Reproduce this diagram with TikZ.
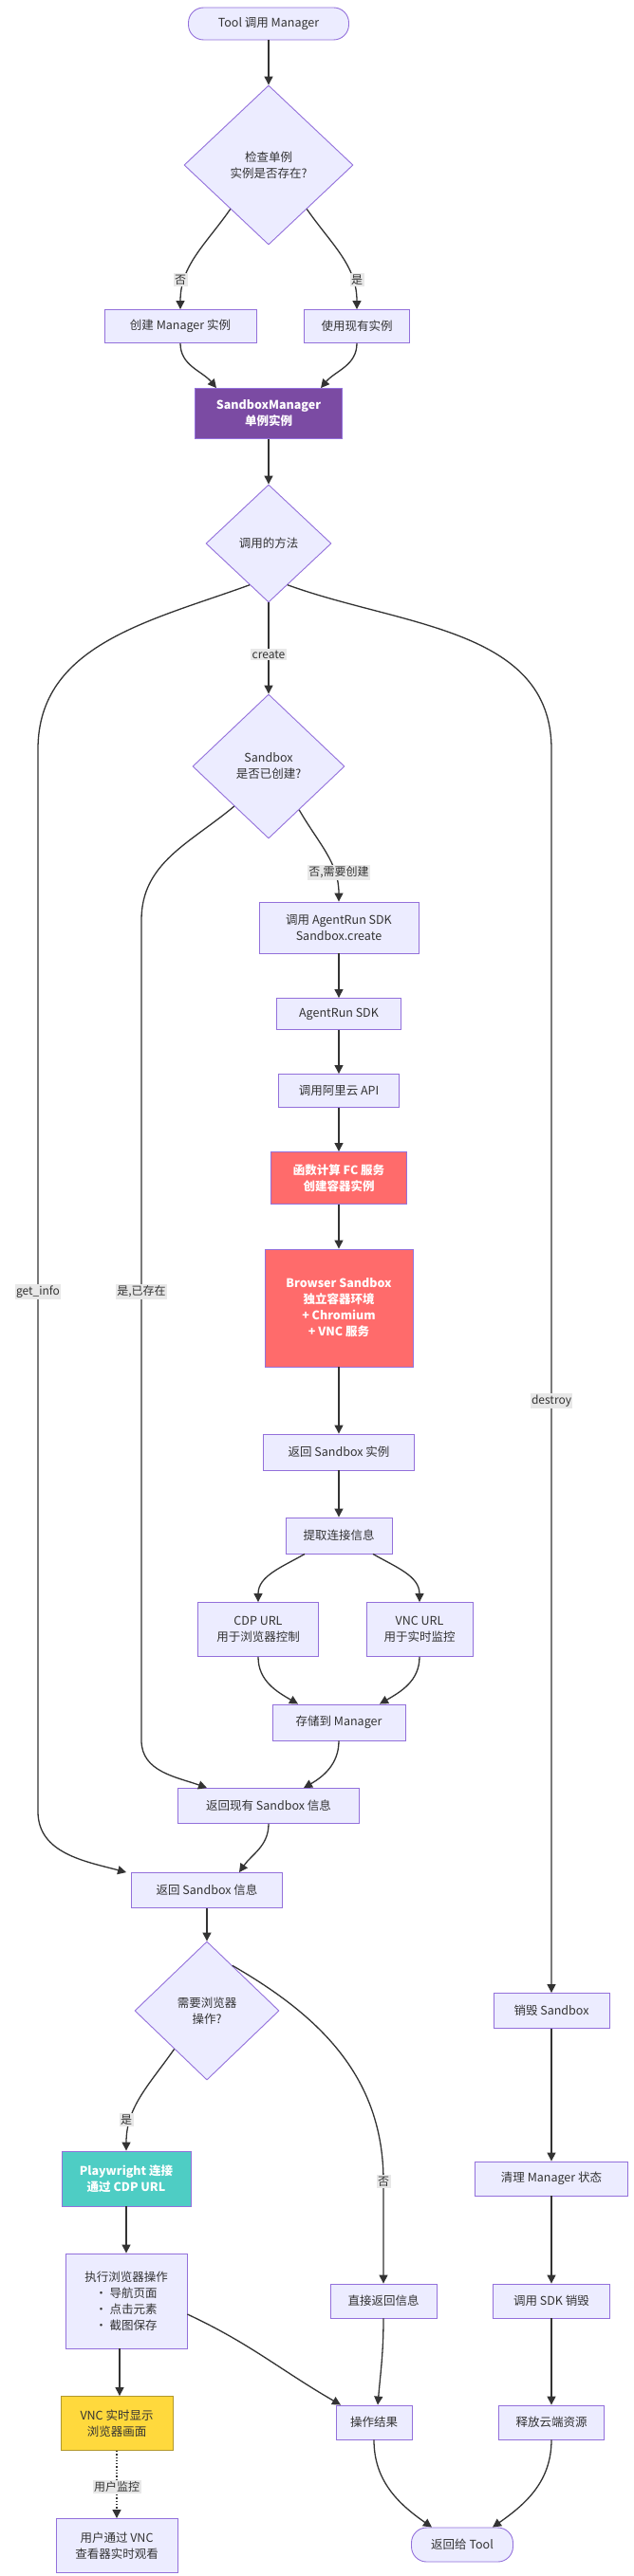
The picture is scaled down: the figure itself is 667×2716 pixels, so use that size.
\documentclass[tikz,border=0pt]{standalone}
\usepackage{fontspec}
\setmainfont{Noto Sans CJK SC}
\usetikzlibrary{shapes.geometric,arrows.meta,calc}
\definecolor{nfill}{HTML}{ECECFF}
\definecolor{nline}{HTML}{9370DB}
\definecolor{ink}{HTML}{333333}
\definecolor{smc}{HTML}{7B4BA3}
\definecolor{redc}{HTML}{FF6B6B}
\definecolor{tealc}{HTML}{4ECDC4}
\definecolor{yelc}{HTML}{FFD93D}
\definecolor{lblbg}{HTML}{E8E8E8}
\tikzset{
 box/.style={draw=nline, fill=nfill, text=ink, align=center, inner sep=1pt, line width=0.9pt, font=\fontsize{12.5}{17}\selectfont},
 dia/.style={box, diamond, inner sep=0pt},
 term/.style={box, rounded corners=16pt},
 arr/.style={draw=ink, line width=1.3pt, -{Triangle[length=9pt,width=9pt]}},
 lbl/.style={fill=lblbg, text=ink, inner sep=1.5pt, font=\fontsize{12}{14}\selectfont},
}
\begin{document}
\begin{tikzpicture}[x=1pt,y=-1pt]
\useasboundingbox[fill=white] (0,0) rectangle (667,2716);
% nodes
\node[term, minimum width=169, minimum height=34] (start) at (283,25) {Tool 调用 Manager};
\node[dia, minimum width=178, minimum height=168] (d1) at (283,174) {检查单例\\实例是否存在?};
\node[box, minimum width=160, minimum height=35] (create) at (190,344) {创建 Manager 实例};
\node[box, minimum width=111, minimum height=35] (use) at (376,344) {使用现有实例};
\node[box, fill=smc, text=white, font=\fontsize{12.5}{17}\selectfont\bfseries, minimum width=155, minimum height=53] (sm) at (283,436) {SandboxManager\\单例实例};
\node[dia, minimum width=132, minimum height=124] (d2) at (283,573) {调用的方法};
\node[dia, minimum width=160, minimum height=152] (d3) at (283,808) {Sandbox\\是否已创建?};
\node[box, minimum width=168, minimum height=54] (call) at (357,978) {调用 AgentRun SDK\\Sandbox.create};
\node[box, minimum width=131, minimum height=33] (sdk) at (357,1069) {AgentRun SDK};
\node[box, minimum width=127, minimum height=35] (api) at (357,1150) {调用阿里云 API};
\node[box, fill=redc, text=white, font=\fontsize{12.5}{17}\selectfont\bfseries, minimum width=143, minimum height=55] (fc) at (357,1242) {函数计算 FC 服务\\创建容器实例};
\node[box, fill=redc, text=white, font=\fontsize{12.5}{17}\selectfont\bfseries, minimum width=156, minimum height=124] (bs) at (357,1379) {Browser Sandbox\\独立容器环境\\+ Chromium\\+ VNC 服务};
\node[box, minimum width=159, minimum height=38] (rsb) at (357,1531) {返回 Sandbox 实例};
\node[box, minimum width=112, minimum height=38] (ext) at (357,1619) {提取连接信息};
\node[box, minimum width=127, minimum height=57] (cdp) at (272,1718) {CDP URL\\用于浏览器控制};
\node[box, minimum width=112, minimum height=57] (vnc) at (442,1718) {VNC URL\\用于实时监控};
\node[box, minimum width=140, minimum height=38] (store) at (357,1816) {存储到 Manager};
\node[box, minimum width=191, minimum height=37] (rex) at (283,1904) {返回现有 Sandbox 信息};
\node[box, minimum width=159, minimum height=37] (rsi) at (218,1993) {返回 Sandbox 信息};
\node[dia, minimum width=152, minimum height=146] (d4) at (218,2120) {需要浏览器\\操作?};
\node[box, minimum width=122, minimum height=37] (des) at (581,2120) {销毁 Sandbox};
\node[box, fill=tealc, text=white, font=\fontsize{12.5}{17}\selectfont\bfseries, minimum width=136, minimum height=58] (pw) at (133,2297) {Playwright 连接\\通过 CDP URL};
\node[box, minimum width=161, minimum height=36] (clr) at (581,2297) {清理 Manager 状态};
\node[box, minimum width=128, minimum height=100] (exe) at (133,2426) {执行浏览器操作\\• 导航页面\\• 点击元素\\• 截图保存};
\node[box, minimum width=112, minimum height=36] (dir) at (404,2426) {直接返回信息};
\node[box, minimum width=123, minimum height=36] (sdkd) at (581,2426) {调用 SDK 销毁};
\node[box, fill=yelc, draw=yelc!70!black, minimum width=118, minimum height=57] (vshow) at (123,2555) {VNC 实时显示\\浏览器画面};
\node[box, minimum width=80, minimum height=36] (res) at (394,2554) {操作结果};
\node[box, minimum width=111, minimum height=36] (rel) at (581,2554) {释放云端资源};
\node[box, minimum width=128, minimum height=57] (user) at (123,2684) {用户通过 VNC\\查看器实时观看};
\node[term, minimum width=107, minimum height=36] (ret) at (487,2683) {返回给 Tool};
% coordinates
\coordinate (gA) at (40,790);
\coordinate (gB) at (40,1910);
\coordinate (eA) at (149,970);
\coordinate (eB) at (149,1835);
\coordinate (dA) at (581,790);
\coordinate (nA) at (404,2300);
% edges
\draw[arr] (start) -- (d1);
\draw[arr] ($(d1.west)!0.55!(d1.south)$) to[out=-125,in=90] (create.north);
\draw[arr] ($(d1.east)!0.55!(d1.south)$) to[out=-55,in=90] (use.north);
\draw[arr] (create.south) to[out=-90,in=130] ([xshift=-55pt]sm.north);
\draw[arr] (use.south) to[out=-90,in=50] ([xshift=55pt]sm.north);
\draw[arr] (sm) -- (d2);
\draw[arr] (d2) -- (d3);
\draw[arr] ($(d2.west)!0.7!(d2.south)$) to[out=-160,in=90] (gA) -- (gB) to[out=-90,in=165] ([xshift=-5pt]rsi.north west);
\draw[arr] ($(d2.east)!0.7!(d2.south)$) to[out=-20,in=90] (dA) -- (des.north);
\draw[arr] ($(d3.west)!0.55!(d3.south)$) to[out=-140,in=90] (eA) -- (eB) to[out=-90,in=160] ([xshift=-65pt]rex.north);
\draw[arr] ($(d3.east)!0.6!(d3.south)$) to[out=-60,in=90] (call.north);
\draw[arr] (call) -- (sdk);
\draw[arr] (sdk) -- (api);
\draw[arr] (api) -- (fc);
\draw[arr] (fc) -- (bs);
\draw[arr] (bs) -- (rsb);
\draw[arr] (rsb) -- (ext);
\draw[arr] ([xshift=-36pt]ext.south) to[out=-150,in=90] (cdp.north);
\draw[arr] ([xshift=36pt]ext.south) to[out=-30,in=90] (vnc.north);
\draw[arr] (cdp.south) to[out=-90,in=150] ([xshift=-43pt]store.north);
\draw[arr] (vnc.south) to[out=-90,in=30] ([xshift=43pt]store.north);
\draw[arr] (store.south) to[out=-90,in=30] ([xshift=37pt]rex.north);
\draw[arr] (rex.south) to[out=-90,in=55] ([xshift=34pt]rsi.north);
\draw[arr] (rsi) -- (d4);
\draw[arr] ($(d4.west)!0.55!(d4.south)$) to[out=-125,in=90] (pw.north);
\draw[arr] ($(d4.east)!0.65!(d4.north)$) to[out=-30,in=90] (nA) -- (dir.north);
\draw[arr] (des) -- (clr);
\draw[arr] (clr) -- (sdkd);
\draw[arr] (sdkd) -- (rel);
\draw[arr] (pw) -- (exe);
\draw[arr] ([xshift=-7pt]exe.south) -- ([xshift=3pt]vshow.north);
\draw[arr] ([yshift=-14pt]exe.east) to[out=-25,in=150] ([xshift=-35pt]res.north);
\draw[arr] (dir.south) to[out=-90,in=85] ([xshift=4pt]res.north);
\draw[arr, dotted] (vshow) -- (user);
\draw[arr] (res.south) to[out=-90,in=145] ([xshift=-32pt]ret.north);
\draw[arr] (rel.south) to[out=-90,in=35] ([xshift=32pt]ret.north);
% labels
\node[lbl] (l1) at (190,295) {否};
\node[lbl] (l2) at (376,295) {是};
\node[lbl] (l3) at (283,690) {create};
\node[lbl] (l4) at (357,920) {否,需要创建};
\node[lbl] (l5) at (40,1362) {get\_info};
\node[lbl] (l6) at (149,1362) {是,已存在};
\node[lbl] (l7) at (581,1477) {destroy};
\node[lbl] (l8) at (133,2235) {是};
\node[lbl] (l9) at (404,2300) {否};
\node[lbl] (l10) at (123,2622) {用户监控};
\end{tikzpicture}
\end{document}
